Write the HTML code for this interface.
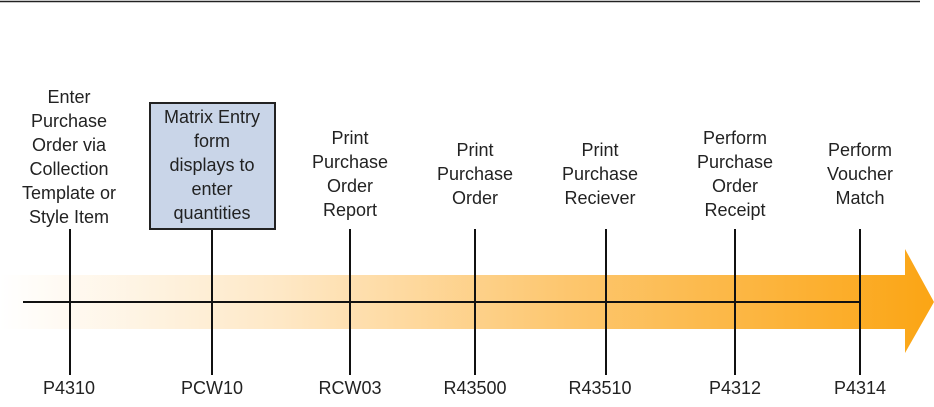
<!DOCTYPE html>
<html><head><style>
body{margin:0;width:934px;height:402px;overflow:hidden;background:#fff}
text{font-family:"Liberation Sans",Arial,sans-serif;font-size:18px;fill:#222;text-anchor:middle}
</style></head><body>
<svg width="934" height="402" xmlns="http://www.w3.org/2000/svg">
<defs><linearGradient id="g" x1="0" x2="934" y1="0" y2="0" gradientUnits="userSpaceOnUse">
<stop offset="0" stop-color="#fff"/><stop offset="0.3" stop-color="#fee8c6"/><stop offset="0.6" stop-color="#fdc770"/><stop offset="1" stop-color="#fba514"/></linearGradient></defs>
<line x1="0" y1="1.5" x2="920" y2="1.5" stroke="#222" stroke-width="1.5"/>
<path d="M0 275 H905 V249 L934 302 L905 353 V329 H0 Z" fill="url(#g)"/>
<rect x="150" y="103" width="125" height="126" fill="#c9d5e8" stroke="#222" stroke-width="2"/>
<g stroke="#111" stroke-width="2">
<line x1="23" y1="302" x2="860" y2="302"/>
<line x1="70" y1="229" x2="70" y2="375"/>
<line x1="212" y1="230" x2="212" y2="375"/>
<line x1="350" y1="229" x2="350" y2="375"/>
<line x1="475" y1="229" x2="475" y2="375"/>
<line x1="606" y1="229" x2="606" y2="375"/>
<line x1="735" y1="229" x2="735" y2="375"/>
<line x1="860" y1="229" x2="860" y2="375"/>
</g>
<g>
<text x="69" y="103">Enter</text><text x="69" y="127">Purchase</text><text x="69" y="151">Order via</text><text x="69" y="175">Collection</text><text x="69" y="199">Template or</text><text x="69" y="223">Style Item</text>
<text x="212" y="123">Matrix Entry</text><text x="212" y="147">form</text><text x="212" y="171">displays to</text><text x="212" y="195">enter</text><text x="212" y="219">quantities</text>
<text x="350" y="144">Print</text><text x="350" y="168">Purchase</text><text x="350" y="192">Order</text><text x="350" y="216">Report</text>
<text x="475" y="156">Print</text><text x="475" y="180">Purchase</text><text x="475" y="204">Order</text>
<text x="600" y="156">Print</text><text x="600" y="180">Purchase</text><text x="600" y="204">Reciever</text>
<text x="735" y="144">Perform</text><text x="735" y="168">Purchase</text><text x="735" y="192">Order</text><text x="735" y="216">Receipt</text>
<text x="860" y="156">Perform</text><text x="860" y="180">Voucher</text><text x="860" y="204">Match</text>
<text x="69" y="394">P4310</text><text x="212" y="394">PCW10</text><text x="350" y="394">RCW03</text><text x="475" y="394">R43500</text><text x="600" y="394">R43510</text><text x="735" y="394">P4312</text><text x="860" y="394">P4314</text>
</g>
</svg>
</body></html>
